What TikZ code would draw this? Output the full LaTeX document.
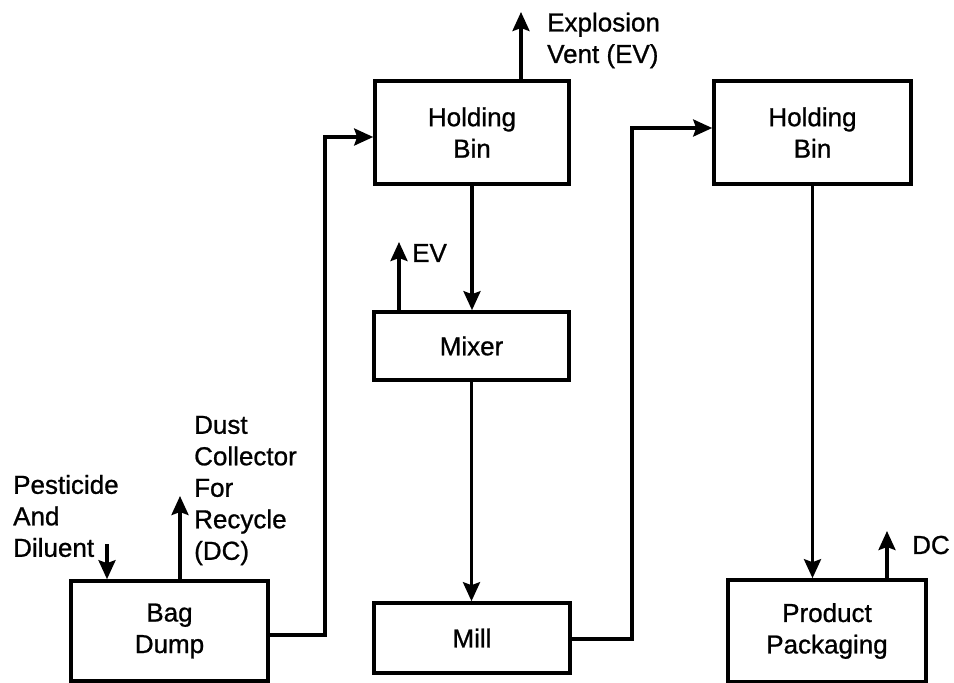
\documentclass[tikz,border=0pt]{standalone}
\usepackage{fontspec}
\setmainfont{Liberation Sans}
\newfontfamily\semib[FakeBold=0.9]{Liberation Sans}
\usetikzlibrary{arrows.meta}
\begin{document}
\begin{tikzpicture}[x=1pt,y=-1pt,
  every node/.style={font=\semib\fontsize{26}{31.5}\selectfont},
  box/.style={draw, line width=3.6pt, align=center, inner sep=0pt},
  lbl/.style={anchor=west, align=left, inner sep=0pt},
  conn/.style={line width=3.4pt, -{Stealth[length=19pt,width=17pt,inset=3pt]}}]
\useasboundingbox (0,0) rectangle (954,683);
% boxes
\node[box, minimum width=194, minimum height=103] (hb1) at (472,132.5) {Holding\\Bin};
\node[box, minimum width=195, minimum height=68] (mix) at (471.5,346) {Mixer};
\node[box, minimum width=196, minimum height=70] (mill) at (472,638) {Mill};
\node[box, minimum width=197, minimum height=100] (bd) at (169.5,631) {Bag\\Dump};
\node[box, minimum width=197, minimum height=103] (hb2) at (812.5,132.5) {Holding\\Bin};
\node[box, minimum width=198, minimum height=102] (pp) at (827,631) {Product\\Packaging};
% labels
\node[lbl] (tev1) at (547,40.5) {Explosion\\Vent (EV)};
\node[lbl] (tev2) at (412,253) {EV};
\node[lbl] (tdc1) at (194,490.5) {Dust\\Collector\\For\\Recycle\\(DC)};
\node[lbl] (tpd) at (13,516) {Pesticide\\And\\Diluent};
\node[lbl] (tdc2) at (912,545) {DC};
% helper coordinates
\coordinate (c1) at (325,0);
\coordinate (c2) at (632,0);
\coordinate (bdo) at ([yshift=-4pt]bd.east);
\coordinate (hb1i) at ([yshift=-4.5pt]hb1.west);
\coordinate (millo) at ([yshift=-1pt]mill.east);
\coordinate (hb2i) at ([yshift=4.5pt]hb2.west);
\coordinate (ev1) at (521,12);
\coordinate (ev2) at (399,242);
\coordinate (pin) at (107,544);
\coordinate (dc1) at (180,496);
\coordinate (dc2) at (887,531);
% connectors
\draw[conn] (bdo) -| (c1 |- hb1i) -- (hb1i);
\draw[conn] (millo) -| (c2 |- hb2i) -- (hb2i);
\draw[conn] (hb1.south) -- (hb1.south |- mix.north);
\draw[conn] (mix.south) -- (mix.south |- mill.north);
\draw[conn] (hb2.south) -- (hb2.south |- pp.north);
\draw[conn] (hb1.north -| ev1) -- (ev1);
\draw[conn] (mix.north -| ev2) -- (ev2);
\draw[conn] (pin) -- (pin |- bd.north);
\draw[conn] (bd.north -| dc1) -- (dc1);
\draw[conn] (pp.north -| dc2) -- (dc2);
\end{tikzpicture}
\end{document}
